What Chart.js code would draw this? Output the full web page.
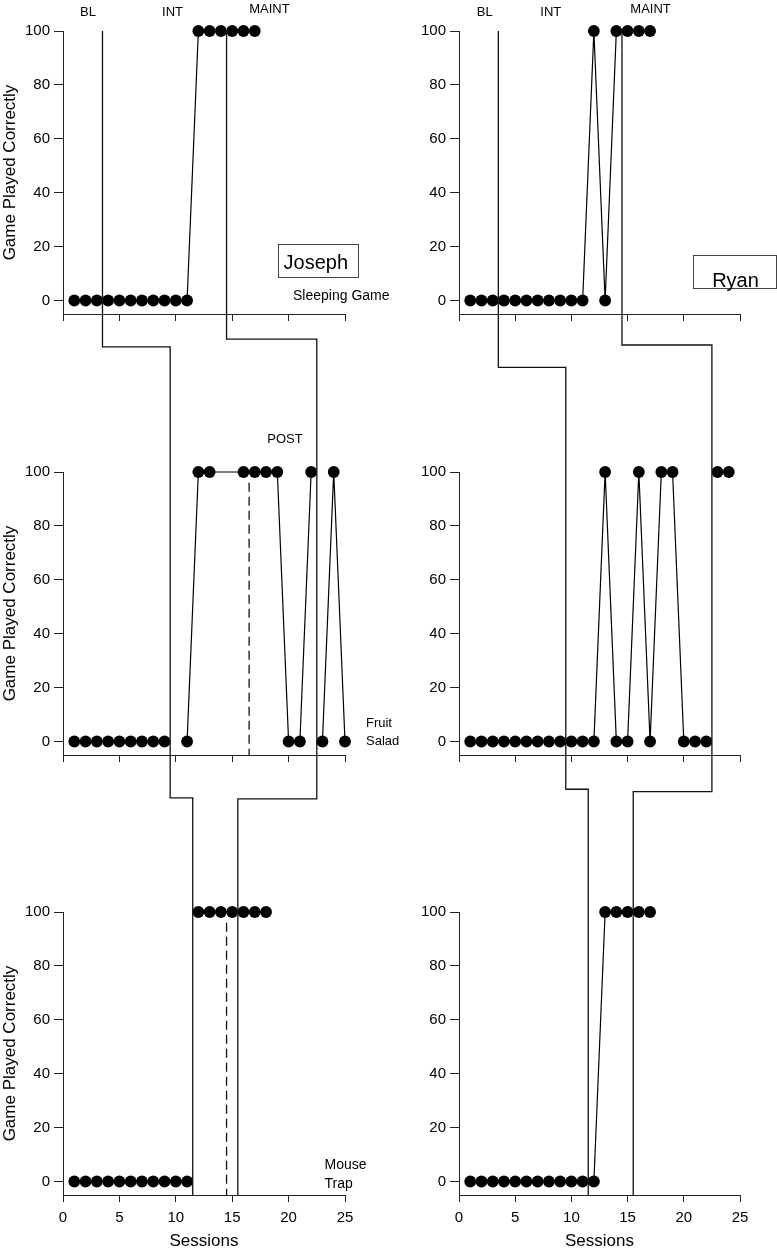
<!DOCTYPE html>
<html>
<head>
<meta charset="utf-8">
<script src="https://cdn.jsdelivr.net/npm/chart.js@4.4.1/dist/chart.umd.min.js"></script>
<style>
    html, body { margin: 0; padding: 0; background: #fff; }
    #wrap { position: relative; width: 777px; height: 1250px; overflow: hidden; }
    #wrap canvas { position: absolute; left: 0; top: 0; }
</style>
</head>
<body>
<div id="wrap"></div>
<script>
var sessionTicks = [0, 5, 10, 15, 20, 25]
var percentTicks = [0, 20, 40, 60, 80, 100]

// Joseph
var josephSleepSessions = [1, 2, 3, 4, 5, 6, 7, 8, 9, 10, 11, 12, 13, 14, 15, 16, 17]
var josephSleepScores   = [0, 0, 0, 0, 0, 0, 0, 0, 0, 0, 0, 100, 100, 100, 100, 100, 100]
var josephFruitSessions = [1, 2, 3, 4, 5, 6, 7, 8, 9, 11, 12, 13, 16, 17, 18, 19, 20, 21, 22, 23, 24, 25]
var josephFruitScores   = [0, 0, 0, 0, 0, 0, 0, 0, 0, 0, 100, 100, 100, 100, 100, 100, 0, 0, 100, 0, 100, 0]
var josephMouseSessions = [1, 2, 3, 4, 5, 6, 7, 8, 9, 10, 11, 12, 13, 14, 15, 16, 17, 18]
var josephMouseScores   = [0, 0, 0, 0, 0, 0, 0, 0, 0, 0, 0, 100, 100, 100, 100, 100, 100, 100]

// Ryan
var ryanSleepSessions = [1, 2, 3, 4, 5, 6, 7, 8, 9, 10, 11, 12, 13, 14, 15, 16, 17]
var ryanSleepScores   = [0, 0, 0, 0, 0, 0, 0, 0, 0, 0, 0, 100, 0, 100, 100, 100, 100]
var ryanFruitSessions = [1, 2, 3, 4, 5, 6, 7, 8, 9, 10, 11, 12, 13, 14, 15, 16, 17, 18, 19, 20, 21, 22, 23, 24]
var ryanFruitScores   = [0, 0, 0, 0, 0, 0, 0, 0, 0, 0, 0, 0, 100, 0, 0, 100, 0, 100, 100, 0, 0, 0, 100, 100]
var ryanMouseSessions = [1, 2, 3, 4, 5, 6, 7, 8, 9, 10, 11, 12, 13, 14, 15, 16, 17]
var ryanMouseScores   = [0, 0, 0, 0, 0, 0, 0, 0, 0, 0, 0, 0, 100, 100, 100, 100, 100]

// phase changes per game (sleeping, fruit salad, mouse trap)
var phaseIntStart   = [3.5, 9.5, 11.5]
var phaseMaintStart = [14.5, 22.5, 15.5]

// ---- layout (pixels) ----
var W = 777, H = 1250
var colLeft = [63, 459], colRight = [345, 740]
var rowTop = [31, 472, 912], rowBottom = [314, 755, 1195]
var yAxisW = 63
var FONT = '"Liberation Sans", Arial, Helvetica, sans-serif'

// connector levels between tiers, in the upper tier's y units
var stepLevels = [
    { int: [-17.2, -20.9], maint: [-14.3, -21.3] },
    { int: [-24.8, -17.7], maint: [-16.5, -18.6] }
]

var panels = [
    { col: 0, row: 0, sessions: josephSleepSessions, scores: josephSleepScores,
      texts: [
        { t: 'BL', x: 2.22, y: 106.8, size: 13 },
        { t: 'INT', x: 9.71, y: 106.8, size: 13 },
        { t: 'MAINT', x: 18.3, y: 108.1, size: 13 },
        { t: 'Joseph', x: 22.41, y: 11.6, size: 20, base: 'alphabetic' },
        { t: 'Sleeping Game', x: 20.39, y: 1.7, size: 14, align: 'left' }
      ],
      box: [19.06, 26.15, 20.97, 8.6] },
    { col: 0, row: 1, sessions: josephFruitSessions, scores: josephFruitScores,
      texts: [
        { t: 'POST', x: 19.68, y: 112.1, size: 13 },
        { t: 'Fruit', x: 26.86, y: 6.9, size: 13, align: 'left' },
        { t: 'Salad', x: 26.86, y: -0.1, size: 13, align: 'left' }
      ],
      dashed: [16.5] },
    { col: 0, row: 2, sessions: josephMouseSessions, scores: josephMouseScores,
      texts: [
        { t: 'Mouse', x: 23.19, y: 5.9, size: 14, align: 'left' },
        { t: 'Trap', x: 23.19, y: -1.0, size: 14, align: 'left' }
      ],
      dashed: [14.5] },
    { col: 1, row: 0, sessions: ryanSleepSessions, scores: ryanSleepScores,
      texts: [
        { t: 'BL', x: 2.29, y: 106.8, size: 13 },
        { t: 'INT', x: 8.17, y: 106.8, size: 13 },
        { t: 'MAINT', x: 17.04, y: 108.1, size: 13 },
        { t: 'Ryan', x: 24.6, y: 4.9, size: 20, base: 'alphabetic' }
      ],
      box: [20.8, 28.2, 16.9, 4.65] },
    { col: 1, row: 1, sessions: ryanFruitSessions, scores: ryanFruitScores, texts: [] },
    { col: 1, row: 2, sessions: ryanMouseSessions, scores: ryanMouseScores, texts: [] }
]

var colCharts = [[], []]

function phaseDatasets(sessions, scores, cuts) {
    var bounds = [-Infinity].concat(cuts, [Infinity])
    var sets = []
    for (var i = 0; i < bounds.length - 1; i++) {
        var pts = []
        for (var j = 0; j < sessions.length; j++) {
            if (sessions[j] > bounds[i] && sessions[j] < bounds[i + 1]) {
                pts.push({ x: sessions[j], y: scores[j] })
            }
        }
        sets.push({
            data: pts,
            borderColor: '#000',
            backgroundColor: '#000',
            borderWidth: 1.2,
            pointRadius: 5.9,
            pointHoverRadius: 5.9,
            pointBorderWidth: 0,
            tension: 0,
            clip: false
        })
    }
    return sets
}

function drawPhasePath(ctx, cs, xs, levels) {
    var px = function (r) { return cs[r].scales.x.getPixelForValue(xs[r]) }
    var py = function (r, v) { return cs[r].scales.y.getPixelForValue(v) }
    ctx.beginPath()
    ctx.moveTo(px(0), py(0, 100))
    ctx.lineTo(px(0), py(0, levels[0]))
    ctx.lineTo(px(1), py(0, levels[0]))
    ctx.lineTo(px(1), py(1, levels[1]))
    ctx.lineTo(px(2), py(1, levels[1]))
    ctx.lineTo(px(2), py(2, -5))
    ctx.stroke()
}

Chart.register({
    id: 'panelMarks',
    afterDraw: function (chart, args, opts) {
        var p = panels[opts.index]
        var ctx = chart.ctx
        var xs = chart.scales.x, ys = chart.scales.y
        ctx.save()
        ctx.strokeStyle = '#111'
        ctx.lineWidth = 1.3
        // POST lines
        ctx.setLineDash([9, 5])
        ;(p.dashed || []).forEach(function (d) {
            var x = xs.getPixelForValue(d)
            ctx.beginPath()
            ctx.moveTo(x, ys.getPixelForValue(96))
            ctx.lineTo(x, ys.getPixelForValue(-5))
            ctx.stroke()
        })
        ctx.setLineDash([])
        // name box
        if (p.box) {
            var bx0 = xs.getPixelForValue(p.box[0]), bx1 = xs.getPixelForValue(p.box[1])
            var by0 = ys.getPixelForValue(p.box[2]), by1 = ys.getPixelForValue(p.box[3])
            ctx.lineWidth = 1
            ctx.strokeStyle = '#444'
            ctx.strokeRect(Math.round(bx0) + 0.5, Math.round(by0) + 0.5, Math.round(bx1 - bx0), Math.round(by1 - by0))
        }
        // texts
        ctx.fillStyle = '#000'
        p.texts.forEach(function (t) {
            ctx.font = t.size + 'px ' + FONT
            ctx.textAlign = t.align || 'center'
            ctx.textBaseline = t.base || 'middle'
            ctx.fillText(t.t, xs.getPixelForValue(t.x), ys.getPixelForValue(t.y))
        })
        // phase change lines running through the whole column
        if (p.row === 2) {
            var cs = [colCharts[p.col][0], colCharts[p.col][1], chart]
            if (cs[0] && cs[1]) {
                ctx.strokeStyle = '#111'
                ctx.lineWidth = 1.3
                drawPhasePath(ctx, cs, phaseIntStart, stepLevels[p.col].int)
                drawPhasePath(ctx, cs, phaseMaintStart, stepLevels[p.col].maint)
            }
        }
        ctx.restore()
    }
})

Chart.defaults.font.family = FONT
Chart.defaults.color = '#000'

var wrap = document.getElementById('wrap')
panels.forEach(function (p, idx) {
    var canvas = document.createElement('canvas')
    canvas.width = W
    canvas.height = H
    wrap.appendChild(canvas)
    var xAxisH = p.row === 2 ? 55 : 30
    var chart = new Chart(canvas, {
        type: 'line',
        data: {
            datasets: phaseDatasets(p.sessions, p.scores, [phaseIntStart[p.row], phaseMaintStart[p.row]])
        },
        options: {
            responsive: false,
            animation: false,
            events: [],
            layout: {
                padding: {
                    left: colLeft[p.col] - yAxisW,
                    right: W - colRight[p.col],
                    top: rowTop[p.row],
                    bottom: H - rowBottom[p.row] - xAxisH
                }
            },
            plugins: {
                legend: { display: false },
                tooltip: { enabled: false },
                panelMarks: { index: idx }
            },
            scales: {
                x: {
                    type: 'linear',
                    min: 0,
                    max: 25,
                    afterBuildTicks: function (s) { s.ticks = sessionTicks.map(function (v) { return { value: v } }) },
                    afterFit: function (s) { s.height = xAxisH },
                    ticks: { display: p.row === 2, font: { size: 15 }, color: '#000', padding: 7, maxRotation: 0 },
                    grid: { drawOnChartArea: false, drawTicks: true, tickLength: 7, color: '#222' },
                    border: { color: '#222', width: 1 },
                    title: { display: p.row === 2, text: 'Sessions', font: { size: 17 }, color: '#000', padding: { top: 0, bottom: -2 } }
                },
                y: {
                    min: -5,
                    max: 100,
                    afterBuildTicks: function (s) { s.ticks = percentTicks.map(function (v) { return { value: v } }) },
                    afterFit: function (s) { s.width = yAxisW },
                    ticks: { font: { size: 15 }, color: '#000', padding: 4 },
                    grid: { drawOnChartArea: false, drawTicks: true, tickLength: 9, color: '#222' },
                    border: { color: '#222', width: 1 },
                    title: { display: p.col === 0, text: 'Game Played Correctly', font: { size: 17 }, color: '#000', padding: 0 }
                }
            }
        }
    })
    colCharts[p.col][p.row] = chart
})
</script>
</body>
</html>
